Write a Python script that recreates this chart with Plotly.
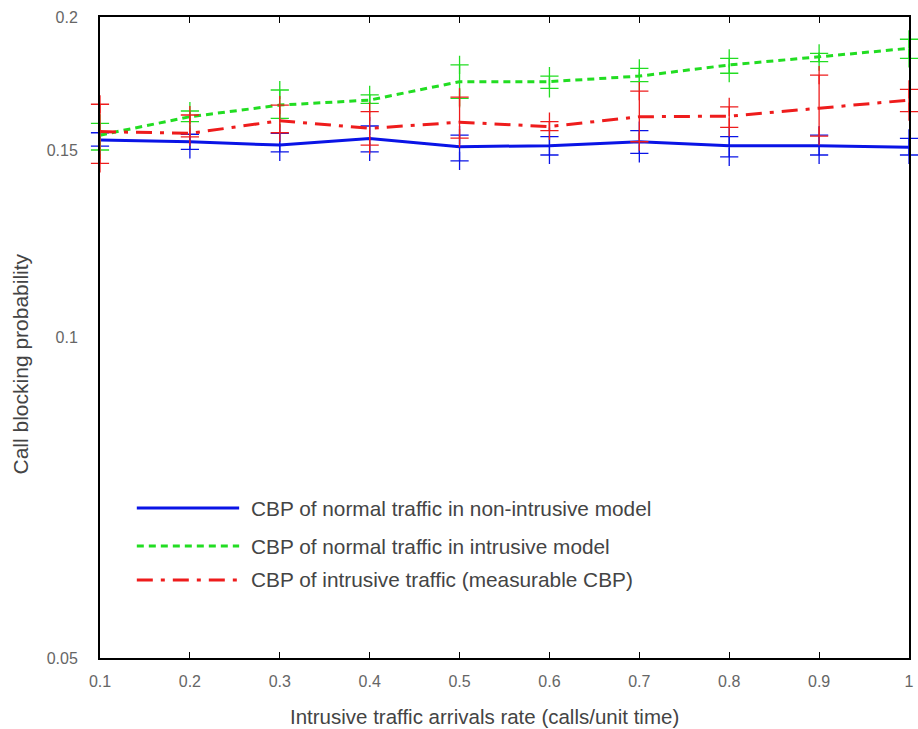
import plotly.graph_objects as go

x_rate = [0.1, 0.2, 0.3, 0.4, 0.5, 0.6, 0.7, 0.8, 0.9, 1.0]
x_ticktext = ["0.1", "0.2", "0.3", "0.4", "0.5", "0.6", "0.7", "0.8", "0.9", "1"]

y_tickvals = [0.05, 0.1, 0.15, 0.2]
y_ticktext = ["0.05", "0.1", "0.15", "0.2"]

# CBP of normal traffic in non-intrusive model
blue_mean = [0.1533, 0.1527, 0.1516, 0.1538, 0.1511, 0.1514, 0.1527, 0.1514, 0.1514, 0.1509]
blue_hi   = [0.1557, 0.1552, 0.1555, 0.1580, 0.1549, 0.1544, 0.1564, 0.1544, 0.1549, 0.1538]
blue_lo   = [0.1513, 0.1502, 0.1494, 0.1494, 0.1465, 0.1484, 0.1489, 0.1478, 0.1484, 0.1484]

# CBP of normal traffic in intrusive model
green_mean = [0.1549, 0.1612, 0.1653, 0.1671, 0.1739, 0.1739, 0.1760, 0.1803, 0.1835, 0.1869]
green_hi   = [0.1589, 0.1632, 0.1708, 0.1690, 0.1803, 0.1760, 0.1790, 0.1829, 0.1849, 0.1906]
green_lo   = [0.1500, 0.1595, 0.1606, 0.1659, 0.1677, 0.1714, 0.1739, 0.1771, 0.1816, 0.1829]

# CBP of intrusive traffic (measurable CBP)
red_mean = [0.1561, 0.1555, 0.1598, 0.1572, 0.1593, 0.1578, 0.1612, 0.1614, 0.1642, 0.1671]
red_hi   = [0.1656, 0.1618, 0.1653, 0.1630, 0.1682, 0.1595, 0.1704, 0.1647, 0.1764, 0.1710]
red_lo   = [0.1457, 0.1543, 0.1557, 0.1516, 0.1539, 0.1564, 0.1527, 0.1575, 0.1546, 0.1630]

series_names = [
    "CBP of normal traffic in non-intrusive model",
    "CBP of normal traffic in intrusive model",
    "CBP of intrusive traffic (measurable CBP)",
]
colors = ["#0a14e6", "#22dd22", "#ee1c1c"]
dashes = ["solid", "7px,5px", "16px,8px,4px,8px"]
FONT = "Liberation Sans, Arial, sans-serif"

fig = go.Figure()
for name, mean, hi, lo, col, dash in [
    (series_names[0], blue_mean, blue_hi, blue_lo, colors[0], dashes[0]),
    (series_names[1], green_mean, green_hi, green_lo, colors[1], dashes[1]),
    (series_names[2], red_mean, red_hi, red_lo, colors[2], dashes[2]),
]:
    plus = [h - m for h, m in zip(hi, mean)]
    minus = [m - l for m, l in zip(mean, lo)]
    # vertical error bars
    fig.add_trace(go.Scatter(
        x=x_rate, y=mean, mode="none", showlegend=False, hoverinfo="skip",
        error_y=dict(type="data", symmetric=False, array=plus, arrayminus=minus,
                     color=col, thickness=1.3, width=0),
        cliponaxis=False,
    ))
    # "+" marks at the ends of the bars
    for ends in (hi, lo):
        fig.add_trace(go.Scatter(
            x=x_rate, y=ends, mode="markers", showlegend=False, hoverinfo="skip",
            marker=dict(symbol="cross-thin", size=13, line=dict(color=col, width=1.3)),
            cliponaxis=False,
        ))
    # main line
    fig.add_trace(go.Scatter(
        x=x_rate, y=mean, mode="lines", name=name, showlegend=False,
        line=dict(color=col, width=3, dash=dash),
    ))

# custom legend (samples + labels), in paper coordinates
leg_y = [0.234, 0.1747, 0.1217]
for name, col, dash, yy in zip(series_names, colors, dashes, leg_y):
    fig.add_shape(type="line", xref="paper", yref="paper",
                  x0=0.0455, x1=0.172, y0=yy, y1=yy,
                  line=dict(color=col, width=3, dash=dash))
    fig.add_annotation(xref="paper", yref="paper", x=0.1845, y=yy,
                       text=name, showarrow=False, xanchor="left", yanchor="middle",
                       font=dict(size=20.8, color="#444444", family=FONT))

# axis titles
fig.add_annotation(xref="paper", yref="paper", x=-0.098, y=0.459,
                   text="Call blocking probability", textangle=-90, showarrow=False,
                   xanchor="center", yanchor="middle",
                   font=dict(size=21, color="#444444", family=FONT))
fig.add_annotation(xref="paper", yref="paper", x=0.4754, y=-0.092,
                   text="Intrusive traffic arrivals rate (calls/unit time)", showarrow=False,
                   xanchor="center", yanchor="middle",
                   font=dict(size=20.5, color="#444444", family=FONT))

fig.update_layout(
    width=918, height=729,
    margin=dict(l=100, r=4, t=17, b=71),
    paper_bgcolor="white", plot_bgcolor="white",
    font=dict(family=FONT, color="#555555"),
    xaxis=dict(
        range=[0.1, 1.0], tickvals=x_rate, ticktext=x_ticktext,
        ticks="inside", ticklen=6, tickcolor="black", tickwidth=1,
        showline=True, linecolor="black", linewidth=2, mirror="ticks",
        showgrid=False, zeroline=False,
        tickfont=dict(size=16, color="#666666"), ticklabelstandoff=8,
    ),
    yaxis=dict(
        type="log", range=[-1.30103, -0.69897],
        tickvals=y_tickvals, ticktext=y_ticktext, ticks="",
        showline=True, linecolor="black", linewidth=2, mirror=True,
        showgrid=False, zeroline=False,
        tickfont=dict(size=16, color="#666666"), ticklabelstandoff=17,
    ),
)

fig.write_html("out.html")
